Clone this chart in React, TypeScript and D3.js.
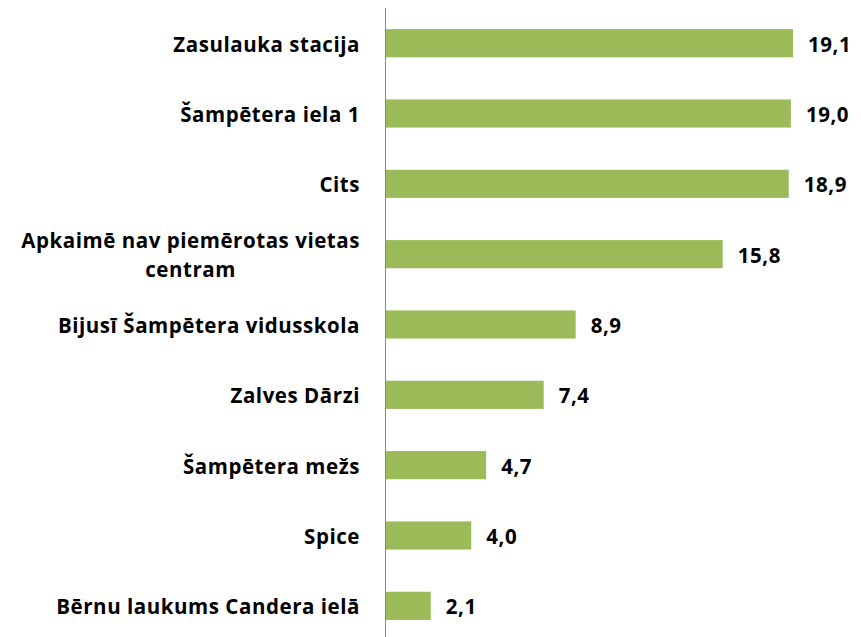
import React, { useEffect, useRef } from "react";
import * as d3 from "d3";

const categories: string[][] = [
  ["Zasulauka stacija"],
  ["Šampētera iela 1"],
  ["Cits"],
  ["Apkaimē nav piemērotas vietas", "centram"],
  ["Bijusī Šampētera vidusskola"],
  ["Zalves Dārzi"],
  ["Šampētera mežs"],
  ["Spice"],
  ["Bērnu laukums Candera ielā"],
];
const values: number[] = [19.1, 19.0, 18.9, 15.8, 8.9, 7.4, 4.7, 4.0, 2.1];

const W = 861;
const H = 637;
const FONT = "'Open Sans', Lato, sans-serif";
const FS = 20.5;
const LS = 0.55;

export default function App() {
  const ref = useRef<SVGSVGElement | null>(null);
  useEffect(() => {
    const svg = d3.select(ref.current);
    svg.selectAll("*").remove();
    const keys = categories.map((c) => c.join(" "));
    const y = d3.scaleBand<string>().domain(keys).range([8, 641]).paddingInner(0.6).paddingOuter(0.3);
    const x = d3.scaleLinear().domain([0, 20]).range([386, 386 + 426.2]);

    const g = svg.append("g");
    g.selectAll("rect.bar")
      .data(values)
      .join("rect")
      .attr("class", "bar")
      .attr("x", x(0))
      .attr("y", (_d, i) => y(keys[i])!)
      .attr("width", (d) => x(d) - x(0))
      .attr("height", y.bandwidth())
      .attr("fill", "#9BBB59");

    g.append("line")
      .attr("x1", 385.5)
      .attr("x2", 385.5)
      .attr("y1", 8)
      .attr("y2", H)
      .attr("stroke", "#868686")
      .attr("stroke-width", 1);

    g.selectAll("text.val")
      .data(values)
      .join("text")
      .attr("class", "val")
      .attr("x", (d) => x(d) + 15)
      .attr("y", (_d, i) => y(keys[i])! + y.bandwidth() / 2)
      .attr("dy", "0.42em")
      .attr("font-family", FONT)
      .attr("font-weight", "bold")
      .attr("font-size", FS)
      .attr("letter-spacing", LS)
      .attr("fill", "#000")
      .text((d) => d.toFixed(1).replace(".", ","));

    const labelRight = 360;
    categories.forEach((lines, i) => {
      const cy = y(keys[i])! + y.bandwidth() / 2;
      const lh = 29;
      const t = g
        .append("text")
        .attr("font-family", FONT)
        .attr("font-weight", "bold")
        .attr("font-size", FS)
        .attr("letter-spacing", LS)
        .attr("fill", "#000");
      if (lines.length === 1) {
        t.attr("x", labelRight).attr("y", cy).attr("dy", "0.42em").attr("text-anchor", "end").text(lines[0]);
      } else {
        const tmp = g
          .append("text")
          .attr("font-family", FONT)
          .attr("font-weight", "bold")
          .attr("font-size", FS)
          .attr("letter-spacing", LS)
          .text(lines[0]);
        const w = (tmp.node() as SVGTextElement).getComputedTextLength();
        tmp.remove();
        const cx = labelRight - w / 2;
        const y0 = cy - ((lines.length - 1) * lh) / 2;
        t.attr("text-anchor", "middle");
        lines.forEach((ln, j) => {
          t.append("tspan").attr("x", cx).attr("y", y0 + j * lh).attr("dy", "0.42em").text(ln);
        });
      }
    });
  }, []);
  return <svg ref={ref} width={W} height={H} style={{ display: "block", position: "absolute", left: 0, top: 0 }} />;
}
